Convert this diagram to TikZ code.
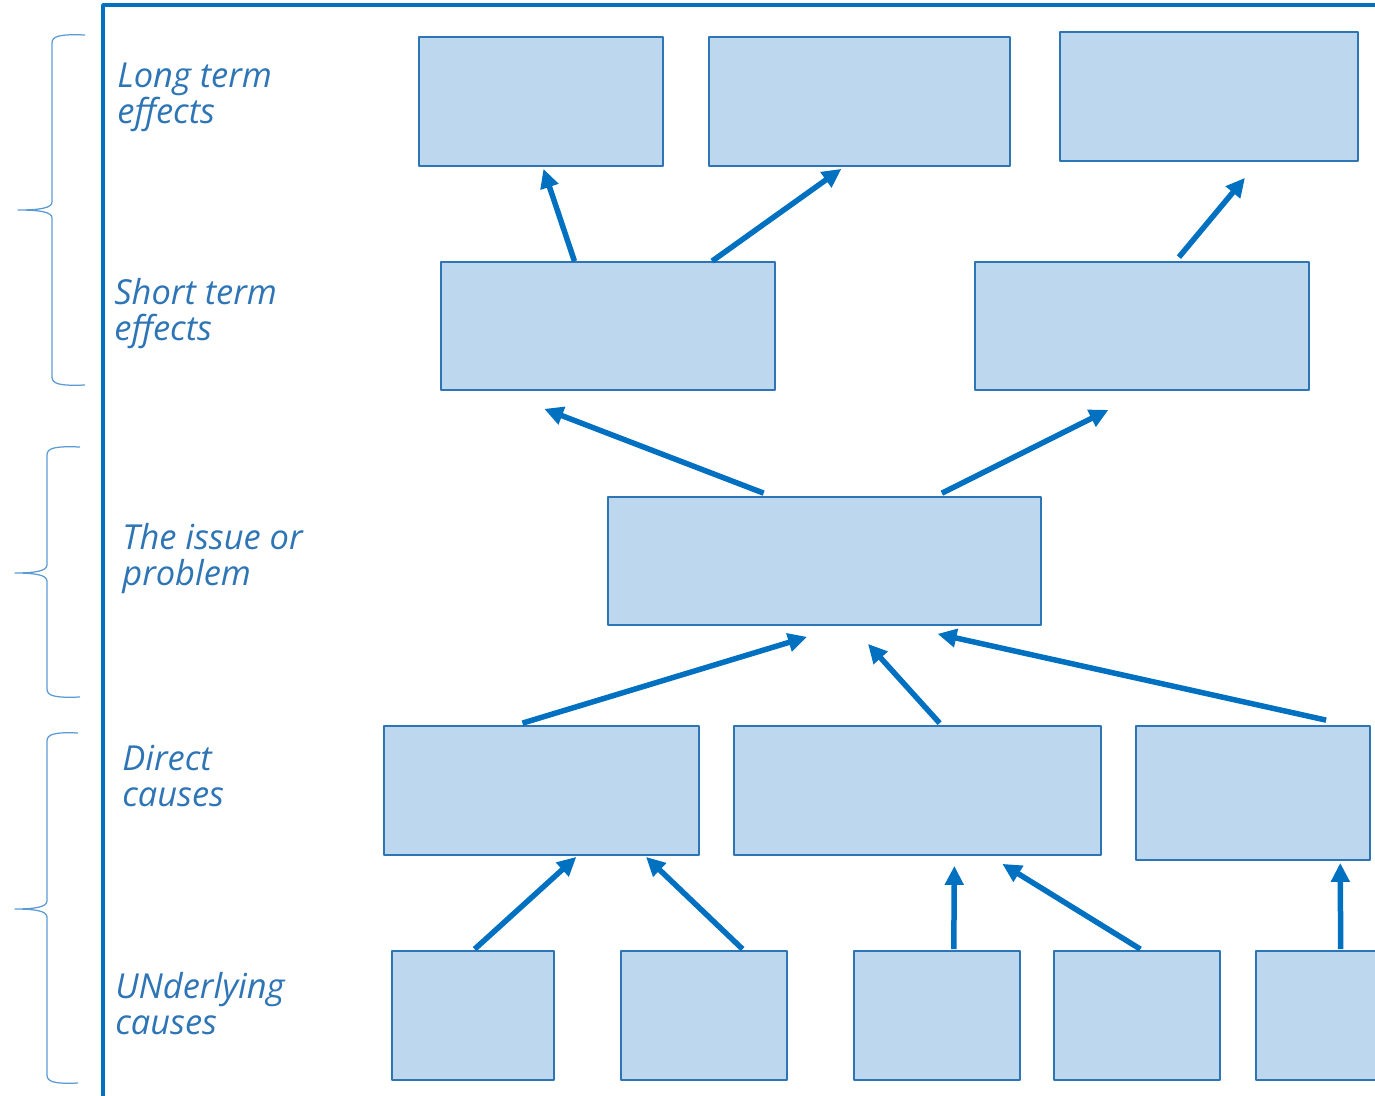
\documentclass[tikz,border=0pt]{standalone}
\usepackage{fontspec}
\setmainfont{Open Sans}
\usetikzlibrary{arrows.meta,calc,fit}
\definecolor{txtblue}{RGB}{46,117,182}
\definecolor{arrblue}{RGB}{0,112,192}
\definecolor{boxfill}{RGB}{189,215,238}
\definecolor{brcblue}{RGB}{91,155,213}
\tikzset{
  box/.style={draw=txtblue, fill=boxfill, line width=0.035cm, inner sep=0pt},
  arr/.style={->, draw=arrblue, line width=0.11cm},
  lbl/.style={anchor=north west, inner sep=0pt, align=left, text=txtblue,
    font=\fontsize{19.6}{20.4}\selectfont\itshape}
}
\begin{document}
\begin{tikzpicture}[x=0.02cm, y=-0.02cm, line join=round, >={Triangle[length=0.38cm,width=0.36cm]}]
	\clip (0,0) rectangle (1375,1095);
	\draw[arrblue, line width=0.07cm] (103,1100)--(103,5)--(1380,5);
	% braces
	\foreach \t/\m/\b/\v/\e/\p in {35/210/385/52/85/18, 447/573/697/47/80/15, 733/909/1083/47/78/15}
	\draw[brcblue, line width=0.025cm] (\e,\t) .. controls ({\v+8},{\t-1}) and (\v,{\t+1}) .. (\v,{\t+8})
		-- (\v,{\m-8}) .. controls (\v,{\m-2}) and ({\v-12},\m) .. (\p,\m)
		.. controls ({\v-12},\m) and (\v,{\m+2}) .. (\v,{\m+8})
		-- (\v,{\b-8}) .. controls (\v,{\b-1}) and ({\v+8},{\b+1}) .. (\e,\b);
	% labels
	\node[lbl] (long) at (117,63) {Long term\\effects};
	\node[lbl] (short) at (114,278) {Short term\\effects};
	\node[lbl] (issue) at (122,523) {The issue or\\problem};
	\node[lbl] (direct) at (122,745) {Direct\\causes};
	\node[lbl] (under) at (115,972) {UNderlying\\causes};
	% boxes
	\node[box, fit={(419,37) (663,166)}] (A) {};
	\node[box, fit={(709,37) (1010,166)}] (B) {};
	\node[box, fit={(1060,32) (1358,161)}] (C) {};
	\node[box, fit={(441,262) (775,390)}] (D) {};
	\node[box, fit={(975,262) (1309,390)}] (E) {};
	\node[box, fit={(608,497) (1041,625)}] (F) {};
	\node[box, fit={(384,726) (699,855)}] (G) {};
	\node[box, fit={(734,726) (1101,855)}] (H) {};
	\node[box, fit={(1136,726) (1370,860)}] (I) {};
	\node[box, fit={(392,951) (554,1080)}] (J) {};
	\node[box, fit={(621,951) (787,1080)}] (K) {};
	\node[box, fit={(854,951) (1020,1080)}] (L) {};
	\node[box, fit={(1054,951) (1220,1080)}] (M) {};
	\node[box, fit={(1256,951) (1422,1080)}] (N) {};
	% arrows
	\foreach \s/\a/\u/\t/\b/\g in {D/.40/0/A/.51/2, D/.81/0/B/.44/2, E/.61/-4/C/.62/16,
		F/.36/-3/D/.31/18, F/.77/-3/E/.40/19,
		G/.44/-2/F/.46/11, H/.56/-2/F/.60/18, I/.81/-5/F/.76/8,
		J/.51/-1/G/.61/1, K/.73/-1/G/.83/1, L/.60/-1/H/.60/10, M/.52/-1/H/.73/8, N/.51/-1/I/.87/2}
	\draw[arr] ($(\s.north west)!\a!(\s.north east)+(0,\u)$) -- ($(\t.south west)!\b!(\t.south east)+(0,\g)$);
\end{tikzpicture}
\end{document}
